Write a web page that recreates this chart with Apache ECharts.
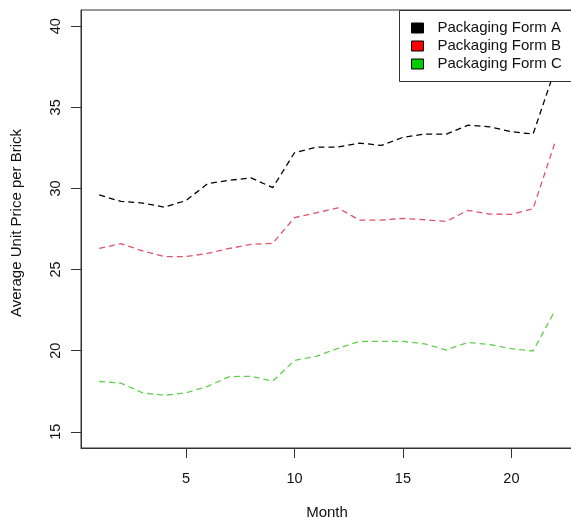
<!DOCTYPE html>
<html>
<head>
<meta charset="utf-8">
<script src="https://cdn.jsdelivr.net/npm/echarts@6/dist/echarts.min.js"></script>
<style>
html,body{margin:0;padding:0;background:#fff;}
#chart{width:571px;height:518px;}
</style>
</head>
<body>
<div id="chart"></div>
<script>
// ---- data ----
const months = [1,2,3,4,5,6,7,8,9,10,11,12,13,14,15,16,17,18,19,20,21,22];
const formA = [29.6,29.2,29.1,28.85,29.25,30.3,30.5,30.65,30.05,32.2,32.55,32.55,32.8,32.65,33.15,33.35,33.35,33.9,33.8,33.5,33.35,37.3];
const formB = [26.3,26.6,26.15,25.8,25.8,26.0,26.3,26.55,26.62,28.2,28.5,28.8,28.05,28.05,28.15,28.07,27.97,28.65,28.42,28.4,28.75,32.8];
const formC = [18.1,18.0,17.4,17.25,17.4,17.8,18.4,18.42,18.12,19.4,19.65,20.14,20.57,20.57,20.57,20.42,20.04,20.51,20.38,20.12,19.98,22.45];
const seriesNames = ['Packaging Form A','Packaging Form B','Packaging Form C'];
const xTicks = [5,10,15,20];
const yTicks = [15,20,25,30,35,40];
const xTitle = 'Month';
const yTitle = 'Average Unit Price per Brick';

const lineColors = ['#000000','#DF536B','#61D04F'];
const legendFill = ['#000000','#ff0000','#00cc00'];
const font = 'Liberation Sans, Arial, sans-serif';

function pairs(vals){ return months.map((m,i)=>[m, vals[i]]); }

const chart = echarts.init(document.getElementById('chart'), null, {renderer:'canvas'});
const allSeries = [formA, formB, formC].map((vals, i) => ({
  name: seriesNames[i],
  type: 'line',
  data: pairs(vals),
  symbol: 'none',
  showSymbol: false,
  silent: true,
  animation: false,
  itemStyle: {color: legendFill[i]},
  lineStyle: {color: lineColors[i], width: 1.3, type: [6, 4]},
  z: 2
}));

chart.setOption({
  animation: false,
  backgroundColor: '#ffffff',
  textStyle: {fontFamily: font},
  grid: {
    left: 81, top: 10, right: -2, bottom: 70,
    show: true, borderColor: '#333', borderWidth: 1, backgroundColor: 'transparent',
    containLabel: false,
    outerBoundsMode: 'none'
  },
  graphic: {
    elements: [{
      type: 'rect',
      silent: true,
      z: 8,
      zlevel: 0,
      shape: {x: 399.5, y: 10.5, width: 200, height: 71},
      style: {fill: '#ffffff', stroke: '#333', lineWidth: 1}
    }]
  },
  legend: {
    orient: 'vertical',
    left: 399, top: 10,
    padding: [9, 10, 8, 12],
    backgroundColor: 'transparent',
    borderWidth: 0,
    icon: 'rect',
    itemWidth: 12, itemHeight: 10,
    itemGap: 0,
    itemStyle: {borderColor: '#000', borderWidth: 1},
    textStyle: {fontFamily: font, fontSize: 15, color: '#111', lineHeight: 18, padding: [0,0,0,9]},
    data: seriesNames.map((n,i)=>({name:n, itemStyle:{color: legendFill[i], borderColor:'#000', borderWidth:1}})),
    selectedMode: false,
    z: 10
  },
  xAxis: {
    type: 'value', min: 0.16, max: 22.84,
    name: xTitle, nameLocation: 'middle', nameGap: 57,
    nameTextStyle: {fontFamily: font, fontSize: 15, color: '#111'},
    axisLine: {show: true, lineStyle: {color: '#333', width: 1}},
    axisTick: {show: true, length: 10, lineStyle: {color: '#333'}, customValues: xTicks},
    axisLabel: {show: true, margin: 23, fontSize: 14.5, color: '#111', fontFamily: font, customValues: xTicks},
    splitLine: {show: false}
  },
  yAxis: {
    type: 'value', min: 14, max: 41,
    name: yTitle, nameLocation: 'middle', nameGap: 57,
    nameTextStyle: {fontFamily: font, fontSize: 15, color: '#111', padding: [0, 0, 0, 12]},
    axisLine: {show: true, lineStyle: {color: '#333', width: 1}},
    axisTick: {show: true, length: 10, lineStyle: {color: '#333'}, customValues: yTicks},
    axisLabel: {show: true, rotate: 90, margin: 18, fontSize: 14.5, color: '#111', fontFamily: font, customValues: yTicks},
    splitLine: {show: false}
  },
  series: allSeries
});
</script>
</body>
</html>
